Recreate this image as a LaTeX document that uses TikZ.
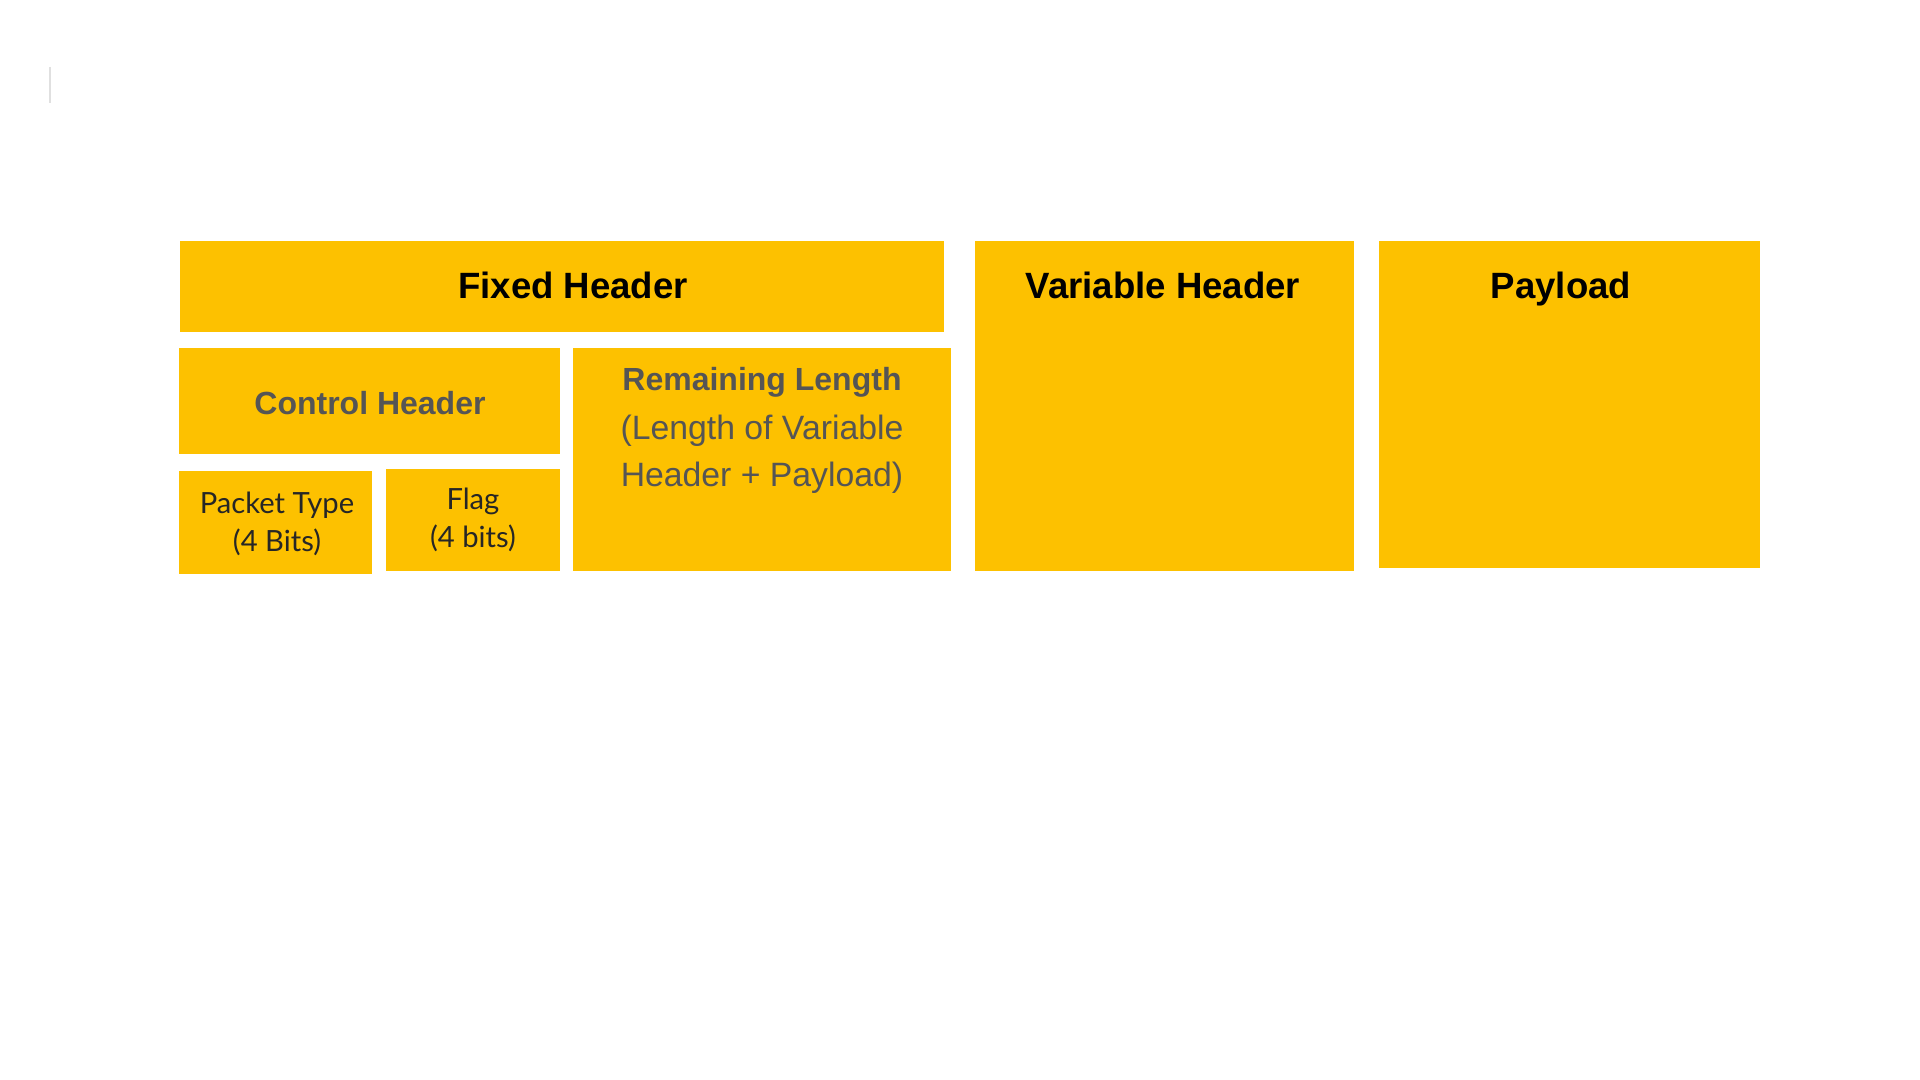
\documentclass[tikz,border=0pt]{standalone}
\usepackage{fontspec}
\setmainfont{Liberation Sans}
\newfontfamily\latofont{Lato}
\usetikzlibrary{fit}
\definecolor{amber}{RGB}{253,193,0}
\definecolor{darkgraytext}{RGB}{85,85,85}
\tikzset{
  box/.style={fill=amber, draw=none, inner sep=0pt, outer sep=0pt},
  bigtitle/.style={font=\fontsize{10.4}{12}\selectfont\bfseries, text=black, inner sep=0pt, anchor=base},
  subtitle/.style={font=\fontsize{9.1}{11}\selectfont\bfseries, text=darkgraytext, inner sep=0pt},
  subtext/.style={font=\fontsize{9.6}{13.6}\selectfont, text=darkgraytext, inner sep=0pt, align=center},
  smalltext/.style={font=\latofont\fontsize{8.3}{10.7}\selectfont, text=black!85, inner sep=0pt, align=center}
}
\begin{document}
\begin{tikzpicture}[x=0.01cm,y=-0.01cm]
\path[fill=white,use as bounding box] (0,0) rectangle (1920,1080);
\draw[black!12, line width=0.3pt] (50,67) -- (50,103);
% boxes
\node (fh) [box, fit={(180,241) (944,332)}] {};
\node (ch) [box, fit={(179,348) (560,454)}] {};
\node (pt) [box, fit={(179,471) (372,574)}] {};
\node (fl) [box, fit={(386,469) (560,571)}] {};
\node (rl) [box, fit={(573,348) (951,571)}] {};
\node (vh) [box, fit={(975,241) (1354,571)}] {};
\node (pl) [box, fit={(1379,241) (1760,568)}] {};
% texts
\node (fht) [bigtitle] at (573,299) {Fixed Header};
\node (vht) [bigtitle] at (1163,299) {Variable Header};
\node (plt) [bigtitle] at (1561,299) {Payload};
\node (cht) [subtitle] at (370,403) {Control Header};
\node (rlt) [subtitle] at (762,382) {Remaining Length};
\node (rlx) [subtext, anchor=north] at (762,414) {(Length of Variable\\Header + Payload)};
\node (ptt) [smalltext] at (277,524) {Packet Type\\(4 Bits)};
\node (flt) [smalltext] at (473,520) {Flag\\(4 bits)};
\end{tikzpicture}
\end{document}
